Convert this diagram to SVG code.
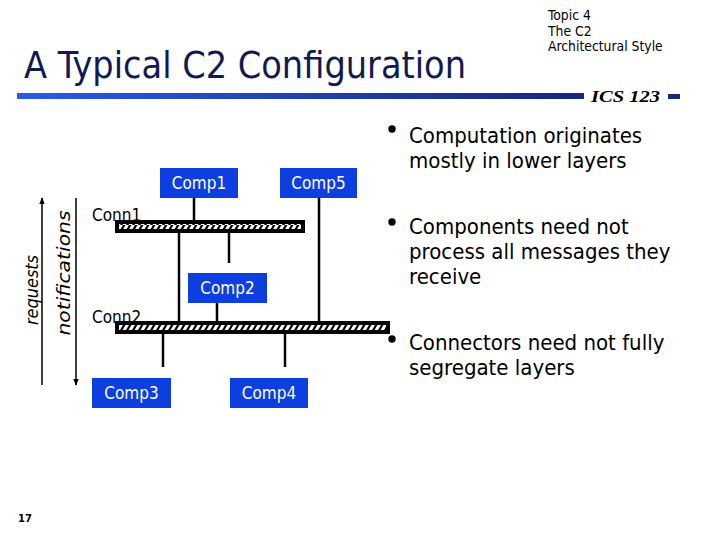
<svg xmlns="http://www.w3.org/2000/svg" width="720" height="540" viewBox="0 0 720 540">
<style>
.comp{fill:#0d3fe0}
.ct{fill:#fff;font-family:"DejaVu Sans Condensed","DejaVu Sans",sans-serif;font-size:17px;text-anchor:middle}
.lbl{fill:#000;font-family:"DejaVu Sans Condensed","DejaVu Sans",sans-serif;font-size:17px}
.ln{stroke:#000;stroke-width:2.5;fill:none}
.bul{fill:#000;font-family:"DejaVu Sans Condensed","DejaVu Sans",sans-serif;font-size:22px}
.side{fill:#000;font-family:"DejaVu Sans",sans-serif;font-size:18px;font-style:italic;text-anchor:middle}
</style>
<defs>
<linearGradient id="bl" x1="0" y1="0" x2="1" y2="0">
<stop offset="0" stop-color="#2a5ae6"/>
<stop offset="1" stop-color="#16287e"/>
</linearGradient>
<pattern id="hatch" x="0" y="0" width="6" height="5" patternUnits="userSpaceOnUse">
<rect width="6" height="5" fill="#fff"/>
<path d="M0,5 L3,0 L5.5,0 L2.5,5 Z" fill="#000"/>
</pattern>
<marker id="ah" viewBox="0 0 10 10" refX="9" refY="5" markerWidth="7" markerHeight="7" orient="auto-start-reverse" markerUnits="userSpaceOnUse">
<path d="M0,1 L10,5 L0,9 Z" fill="#000"/>
</marker>
</defs>
<rect width="720" height="540" fill="#fff"/>
<text x="24" y="78" font-family="'DejaVu Sans Condensed','DejaVu Sans',sans-serif" font-size="38" fill="#0f1a50" textLength="442" lengthAdjust="spacingAndGlyphs">A Typical C2 Configuration</text>
<g font-family="'DejaVu Sans Condensed','DejaVu Sans',sans-serif" font-size="13.8" fill="#000">
<text x="548" y="20">Topic 4</text>
<text x="548" y="36">The C2</text>
<text x="548" y="51">Architectural Style</text>
</g>
<rect x="17" y="93" width="567" height="6" fill="url(#bl)"/>
<rect x="668" y="94" width="12" height="5" fill="#16287e"/>
<text x="591" y="102" font-family="'Liberation Serif',serif" font-weight="bold" font-style="italic" font-size="17" fill="#000" textLength="69" lengthAdjust="spacingAndGlyphs">ICS 123</text>
<g id="connectors">
<line class="ln" x1="194" y1="198" x2="194" y2="221"/>
<line class="ln" x1="319" y1="198" x2="319" y2="323"/>
<line class="ln" x1="179" y1="233" x2="179" y2="323"/>
<line class="ln" x1="229" y1="233" x2="229" y2="263"/>
<line class="ln" x1="217" y1="303" x2="217" y2="323"/>
<line class="ln" x1="163" y1="334" x2="163" y2="367"/>
<line class="ln" x1="285" y1="334" x2="285" y2="367"/>
</g>
<g id="conn1">
<rect x="115" y="220" width="190" height="13" fill="#000"/>
<rect x="119" y="224" width="182" height="5" fill="url(#hatch)"/>
<text class="lbl" x="92" y="221">Conn1</text>
</g>
<g id="conn2">
<rect x="115" y="321" width="275" height="13" fill="#000"/>
<rect x="119" y="325" width="267" height="5" fill="url(#hatch)"/>
<text class="lbl" x="92" y="323">Conn2</text>
</g>
<g id="comp1"><rect class="comp" x="160" y="168" width="78" height="30"/><text class="ct" x="199" y="189">Comp1</text></g>
<g id="comp5"><rect class="comp" x="280" y="168" width="77" height="30"/><text class="ct" x="318.5" y="189">Comp5</text></g>
<g id="comp2"><rect class="comp" x="188" y="273" width="79" height="30"/><text class="ct" x="227.5" y="294">Comp2</text></g>
<g id="comp3"><rect class="comp" x="92" y="378" width="79" height="30"/><text class="ct" x="131.5" y="399">Comp3</text></g>
<g id="comp4"><rect class="comp" x="230" y="378" width="78" height="30"/><text class="ct" x="269" y="399">Comp4</text></g>
<g id="arrows">
<line x1="42" y1="385" x2="42" y2="198" stroke="#000" stroke-width="1.5" marker-end="url(#ah)"/>
<line x1="76" y1="198" x2="76" y2="385" stroke="#000" stroke-width="1.5" marker-end="url(#ah)"/>
<text class="side" transform="translate(38,290) rotate(-90)" textLength="70" lengthAdjust="spacingAndGlyphs">requests</text>
<text class="side" transform="translate(70,273) rotate(-90)" textLength="125" lengthAdjust="spacingAndGlyphs">notifications</text>
</g>
<g id="bullets">
<circle cx="392" cy="129" r="3.7"/>
<text class="bul" x="409" y="143">Computation originates</text>
<text class="bul" x="409" y="168">mostly in lower layers</text>
<circle cx="392" cy="222" r="3.7"/>
<text class="bul" x="409" y="234">Components need not</text>
<text class="bul" x="409" y="259">process all messages they</text>
<text class="bul" x="409" y="284">receive</text>
<circle cx="392" cy="339" r="3.7"/>
<text class="bul" x="409" y="350">Connectors need not fully</text>
<text class="bul" x="409" y="375">segregate layers</text>
</g>
<text x="18" y="522" font-family="'DejaVu Sans',sans-serif" font-weight="bold" font-size="10" fill="#000">17</text>
</svg>
